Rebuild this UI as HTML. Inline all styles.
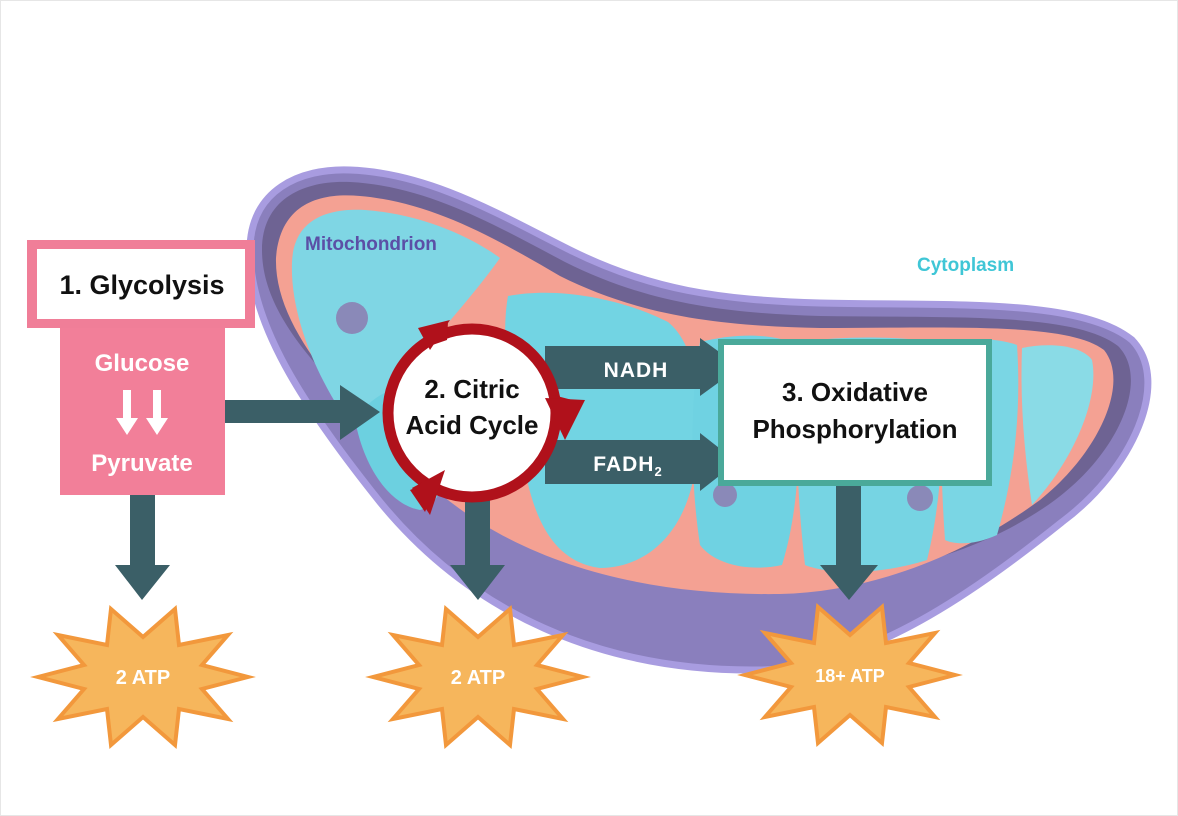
<!DOCTYPE html>
<html><head><meta charset="utf-8"><style>
html,body{margin:0;padding:0;background:#fff;}
svg{display:block;}
text{font-family:"Liberation Sans",sans-serif;font-weight:bold;}
</style></head><body>
<svg width="1178" height="816" viewBox="0 0 1178 816" xmlns="http://www.w3.org/2000/svg">
<rect x="0.5" y="0.5" width="1177" height="815" fill="#fff" stroke="#e6e6e6"/>
<defs>
<polygon id="star" points="105,0 59,12 85,42 36,32 32,68 0,40 -32,68 -36,32 -85,42 -59,12 -105,0 -59,-12 -85,-42 -36,-32 -32,-68 0,-40 32,-68 36,-32 85,-42 59,-12" fill="#f6b65c" stroke="#f2983c" stroke-width="4" stroke-linejoin="miter"/>
</defs>
<!-- mitochondrion outer -->
<path d="M250,250 C250,190 300,168 350,170 C430,173 500,215 570,250 C650,290 720,300 820,303 C950,306 1080,298 1132,340 C1172,382 1132,470 1062,522 C962,602 862,668 760,670 C600,672 470,612 380,502 C300,402 250,322 250,250 Z" fill="#8a7fbd" stroke="#a89ce0" stroke-width="7"/>
<!-- dark top face -->
<path d="M262,250 C262,198 305,180 350,182 C428,186 495,225 565,262 C645,302 720,313 820,316 C950,318 1075,312 1118,346 C1150,378 1120,452 1055,500 C980,555 880,580 780,580 C640,580 510,545 420,465 C330,385 262,320 262,250 Z" fill="#6e6393"/>
<!-- pink inner membrane -->
<path d="M276,258 C280,206 316,192 360,196 C430,202 492,236 560,276 C640,316 720,326 820,328 C950,328 1068,322 1104,350 C1130,382 1100,452 1040,500 C962,557 870,592 780,594 C640,596 510,562 420,476 C340,398 274,326 276,258 Z" fill="#f4a193"/>
<!-- cyan chambers -->
<path d="M292,262 C294,220 326,208 365,210 C420,214 470,236 500,258 C470,300 440,330 410,370 C380,420 360,440 340,410 C312,366 290,310 292,262 Z" fill="#7fd6e4"/>
<path d="M508,296 C560,286 625,300 668,322 C696,345 705,400 695,470 C685,535 645,568 600,568 C555,562 535,522 525,470 C510,410 500,340 508,296 Z" fill="#72d4e3"/>
<path d="M355,420 C385,378 420,378 442,430 C452,470 442,505 420,510 C392,505 365,472 355,420 Z" fill="#6cd0e0"/>
<path d="M700,342 C740,332 770,335 792,342 C802,420 802,500 782,565 C750,572 715,565 700,545 C690,480 690,400 700,342 Z" fill="#6fd2e2"/>
<path d="M800,342 C850,335 900,337 937,342 C947,420 942,500 927,560 C880,575 830,575 805,565 C795,480 795,400 800,342 Z" fill="#76d4e3"/>
<path d="M945,342 C975,337 1000,339 1017,345 C1022,420 1012,482 997,535 C975,545 955,545 945,540 C940,470 940,400 945,342 Z" fill="#7ad6e4"/>
<path d="M1022,348 C1052,342 1082,346 1092,360 C1100,400 1072,462 1032,505 C1024,452 1020,400 1022,348 Z" fill="#8adbe6"/>
<circle cx="352" cy="318" r="16" fill="#8a89b8"/>
<circle cx="725" cy="495" r="12" fill="#8a89b8"/>
<circle cx="920" cy="498" r="13" fill="#8a89b8"/>
<!-- labels -->
<text x="305" y="250" font-size="19" fill="#5b4fa6">Mitochondrion</text>
<text x="917" y="271" font-size="19" fill="#3fc6d6">Cytoplasm</text>
<!-- glycolysis -->
<rect x="27" y="240" width="228" height="88" fill="#f07e98"/>
<rect x="37" y="249" width="208" height="70" fill="#fff"/>
<text x="142" y="294" font-size="27" fill="#111" text-anchor="middle">1. Glycolysis</text>
<rect x="60" y="328" width="165" height="167" fill="#f27f99"/>
<text x="142" y="371" font-size="24" fill="#fff" text-anchor="middle">Glucose</text>
<text x="142" y="471" font-size="24" fill="#fff" text-anchor="middle">Pyruvate</text>
<polygon points="123,390 131,390 131,418 138,418 127,435 116,418 123,418" fill="#fff"/>
<polygon points="153,390 161,390 161,418 168,418 157,435 146,418 153,418" fill="#fff"/>
<!-- arrows -->
<g fill="#3b5f67">
<polygon points="225,400 340,400 340,385 380,412 340,440 340,423 225,423"/>
<polygon points="130,495 155,495 155,565 170,565 142,600 115,565 130,565"/>
<polygon points="465,500 490,500 490,565 505,565 478,600 450,565 465,565"/>
<polygon points="836,485 861,485 861,565 878,565 849,600 820,565 836,565"/>
<polygon points="545,346 700,346 700,338 740,367 700,396 700,389 545,389"/>
<polygon points="545,440 700,440 700,433 737,462 700,491 700,484 545,484"/>
</g>
<text x="636" y="377" font-size="21" fill="#fff" text-anchor="middle" letter-spacing="1">NADH</text>
<text x="628" y="471" font-size="21" fill="#fff" text-anchor="middle" letter-spacing="1">FADH<tspan font-size="13" dy="5">2</tspan></text>
<!-- citric cycle -->
<circle cx="472" cy="413" r="84" fill="#fff"/>
<circle cx="472" cy="413" r="84" fill="none" stroke="#b0111b" stroke-width="11"/>
<polygon points="412,352 448,322 447,340" fill="#b0111b"/>
<polygon points="418,328 450,320 430,350" fill="#b0111b"/>
<polygon points="553,395 580,402 565,438" fill="#b0111b"/>
<polygon points="545,398 585,400 565,440" fill="#b0111b"/>
<polygon points="440,478 410,490 425,512" fill="#b0111b"/>
<polygon points="445,470 412,488 430,515" fill="#b0111b"/>
<text x="472" y="398" font-size="26" fill="#111" text-anchor="middle">2. Citric</text>
<text x="472" y="434" font-size="26" fill="#111" text-anchor="middle">Acid Cycle</text>
<!-- oxidative -->
<rect x="721" y="342" width="268" height="141" fill="#fff" stroke="#4aa99a" stroke-width="6"/>
<text x="855" y="401" font-size="26" fill="#111" text-anchor="middle">3. Oxidative</text>
<text x="855" y="438" font-size="26" fill="#111" text-anchor="middle">Phosphorylation</text>
<!-- stars -->
<use href="#star" transform="translate(143,677)"/>
<use href="#star" transform="translate(478,677)"/>
<use href="#star" transform="translate(850,675)"/>
<text x="143" y="684" font-size="20" fill="#fff" text-anchor="middle">2 ATP</text>
<text x="478" y="684" font-size="20" fill="#fff" text-anchor="middle">2 ATP</text>
<text x="850" y="682" font-size="18" fill="#fff" text-anchor="middle">18+ ATP</text>
</svg>
</body></html>
